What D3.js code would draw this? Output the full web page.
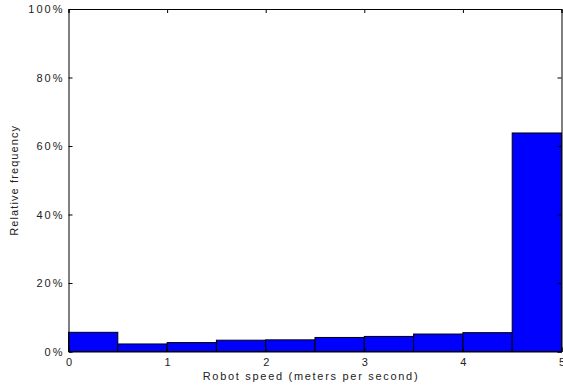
<!DOCTYPE html>
<html>
<head>
<meta charset="utf-8">
<script src="https://cdn.jsdelivr.net/npm/d3@7"></script>
<style>
  body { margin: 0; background: #fff; }
  text { font-family: "Liberation Sans", Arial, sans-serif; fill: #222; }
</style>
</head>
<body>
<div id="chart"></div>
<script>
// histogram bins (m/s) and relative frequency (%)
const binStarts = [0, 0.5, 1, 1.5, 2, 2.5, 3, 3.5, 4, 4.5]
const binWidth = 0.5
const freq = [5.6, 2.2, 2.6, 3.3, 3.4, 4.1, 4.4, 5.1, 5.5, 63.8]
const xTicks = [0, 1, 2, 3, 4, 5]
const yTicks = [0, 20, 40, 60, 80, 100]

let width = 563
let height = 387
let margin = { left: 68.5, right: 1.5, top: 9, bottom: 35.5 }

let svg = d3.select("#chart")
  .append("svg")
  .attr("width", width)
  .attr("height", height)

let x = d3.scaleLinear().domain([0, 5]).range([margin.left, width - margin.right])
let y = d3.scaleLinear().domain([0, 100]).range([height - margin.bottom, margin.top])

// bars
svg.append("g")
  .selectAll("rect")
  .data(binStarts)
  .enter()
  .append("rect")
    .attr("x", d => x(d))
    .attr("width", d => x(d + binWidth) - x(d))
    .attr("y", (d, i) => y(freq[i]))
    .attr("height", (d, i) => y(0) - y(freq[i]))
    .attr("fill", "#0000ff")
    .attr("stroke", "#000")
    .attr("stroke-width", 1)

// axes with inward ticks
let tk = 4
svg.append("g")
  .attr("class", "xax")
  .attr("transform", `translate(0,${y(0)})`)
  .call(d3.axisBottom(x).tickValues(xTicks).tickSize(-tk).tickPadding(7).tickFormat(d3.format("d")))
svg.append("g")
  .attr("transform", `translate(0,${y(100)})`)
  .call(d3.axisTop(x).tickValues(xTicks).tickSize(-tk).tickFormat(""))
svg.append("g")
  .attr("transform", `translate(${x(0)},0)`)
  .call(d3.axisLeft(y).tickValues(yTicks).tickSize(-tk).tickPadding(4).tickFormat(d => d + "%"))
svg.append("g")
  .attr("transform", `translate(${x(5)},0)`)
  .call(d3.axisRight(y).tickValues(yTicks).tickSize(-tk).tickFormat(""))

svg.selectAll(".domain").attr("stroke", "#000")
svg.selectAll(".tick line").attr("stroke", "#000")
svg.selectAll(".tick text")
  .style("font-size", "11px")
  .style("letter-spacing", "2px")
  .attr("fill", "#222")
svg.selectAll(".xax .tick text").attr("dx", "1px")

// labels
svg.append("text")
  .attr("x", (x(0) + x(5)) / 2 - 4)
  .attr("y", 380)
  .attr("text-anchor", "middle")
  .style("font-size", "11px")
  .style("letter-spacing", "1.7px")
  .text("Robot speed (meters per second)")

svg.append("text")
  .attr("transform", `translate(18,${(y(0) + y(100)) / 2}) rotate(-90)`)
  .attr("text-anchor", "middle")
  .style("font-size", "11px")
  .style("letter-spacing", "1.1px")
  .text("Relative frequency")
</script>
</body>
</html>
